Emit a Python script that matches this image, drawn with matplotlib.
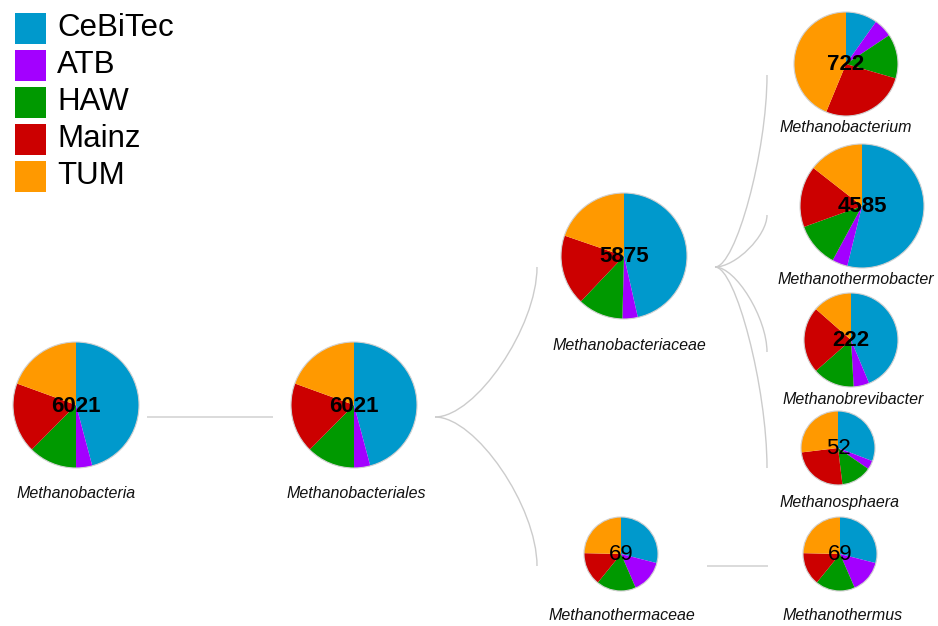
import numpy as np
import matplotlib
matplotlib.use("Agg")
import matplotlib.pyplot as plt
from matplotlib.patches import Rectangle, Circle
from matplotlib.path import Path
from matplotlib.patches import PathPatch

plt.rcParams["font.family"] = ["Liberation Sans", "DejaVu Sans"]

W, H = 938, 626

LABS = ["CeBiTec", "ATB", "HAW", "Mainz", "TUM"]
COLORS = ["#0099cc", "#a300ff", "#009900", "#cc0000", "#ff9900"]

TAXA = [
    "Methanobacteria",
    "Methanobacteriales",
    "Methanobacteriaceae",
    "Methanothermaceae",
    "Methanobacterium",
    "Methanothermobacter",
    "Methanobrevibacter",
    "Methanosphaera",
    "Methanothermus",
]
PARENT = [None, 0, 1, 1, 2, 2, 2, 2, 3]

# sequence counts per lab, one value per taxon
CEBITEC = [2760, 2760, 2730, 20, 71, 2468, 97, 16, 20]
ATB = [250, 250, 232, 10, 42, 186, 12, 2, 10]
HAW = [750, 750, 686, 12, 100, 532, 32, 7, 12]
MAINZ = [1090, 1090, 1067, 10, 193, 737, 51, 13, 10]
TUM = [1171, 1171, 1160, 17, 316, 662, 30, 14, 17]

# layout in pixels: pie centre, radius, label pos, link anchors (left x, right x, y)
LAYOUT = {
    "Methanobacteria": dict(cx=76, cy=405, r=63, tx=76, ly=493, lx=None, rx=147, ay=417),
    "Methanobacteriales": dict(cx=354, cy=405, r=63, tx=356, ly=493, lx=273, rx=435, ay=417),
    "Methanobacteriaceae": dict(cx=624, cy=256, r=63, tx=629, ly=345, lx=537, rx=715, ay=267),
    "Methanothermaceae": dict(cx=621, cy=554, r=37, tx=622, ly=615, lx=537, rx=707, ay=566),
    "Methanobacterium": dict(cx=846, cy=64, r=52, tx=846, ly=128, lx=767, rx=None, ay=75),
    "Methanothermobacter": dict(cx=862, cy=206, r=62, tx=856, ly=280, lx=767, rx=None, ay=215),
    "Methanobrevibacter": dict(cx=851, cy=340, r=47, tx=853, ly=399, lx=767, rx=None, ay=352),
    "Methanosphaera": dict(cx=838, cy=448, r=37, tx=840, ly=502, lx=767, rx=None, ay=468),
    "Methanothermus": dict(cx=840, cy=554, r=37, tx=843, ly=615, lx=768, rx=None, ay=566),
}

counts = np.array([CEBITEC, ATB, HAW, MAINZ, TUM]).T
totals = counts.sum(axis=1)

fig = plt.figure(figsize=(W / 100, H / 100), dpi=100)
ax = fig.add_axes([0, 0, 1, 1])

# links
for i, p in enumerate(PARENT):
    if p is None:
        continue
    s = LAYOUT[TAXA[p]]
    t = LAYOUT[TAXA[i]]
    x0, y0 = s["rx"], s["ay"]
    x1, y1 = t["lx"], t["ay"]
    dx, dy = x1 - x0, y1 - y0
    verts = [(x0, y0), (x0 + 0.4 * dx, y0), (x1, y0 + 0.6 * dy), (x1, y1)]
    path = Path(verts, [Path.MOVETO, Path.CURVE4, Path.CURVE4, Path.CURVE4])
    ax.add_patch(PathPatch(path, fill=False, edgecolor="#cccccc", lw=1.0, zorder=1))

# pies
for i, name in enumerate(TAXA):
    L = LAYOUT[name]
    ax.pie(
        counts[i],
        colors=COLORS,
        center=(L["cx"], L["cy"]),
        radius=L["r"],
        startangle=-90,
        counterclock=True,
        frame=True,
        wedgeprops=dict(linewidth=0, zorder=2),
    )
    ax.add_patch(Circle((L["cx"], L["cy"]), L["r"], fill=False,
                        edgecolor="#d0d0d0", lw=0.8, zorder=3))
    ax.text(L["cx"], L["cy"] + 1, str(totals[i]), ha="center", va="center",
            fontsize=16, fontweight="bold" if totals[i] > 100 else "normal",
            color="black", zorder=4)
    ax.text(L["tx"], L["ly"], name, ha="center", va="center",
            fontsize=11.5, style="italic", color="#111111", zorder=4)

# legend
for k, (lab, col) in enumerate(zip(LABS, COLORS)):
    y = 13 + k * 37
    ax.add_patch(Rectangle((15, y), 31, 31, facecolor=col, edgecolor="none", zorder=2))
    ax.text(57, y + 15, lab, ha="left", va="center", fontsize=22.5, color="black")

ax.set_aspect("equal")
ax.set_xlim(0, W)
ax.set_ylim(H, 0)
ax.axis("off")

fig.savefig("out.png", dpi=100)
